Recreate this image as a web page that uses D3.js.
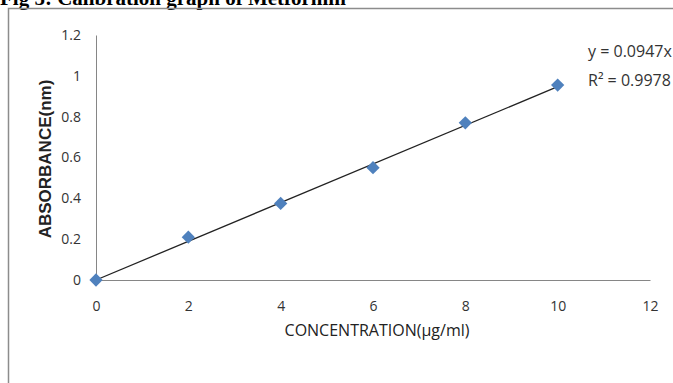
<!DOCTYPE html>
<html>
<head>
<meta charset="utf-8">
<script src="https://cdn.jsdelivr.net/npm/d3@7"></script>
<style>
  body { margin: 0; background: #fff; }
  svg { display: block; }
</style>
</head>
<body>
<div id="chart"></div>
<script>
// data
var concentration = [0, 2, 4, 6, 8, 10];
var absorbance = [0, 0.21, 0.375, 0.55, 0.77, 0.955];
var slope = 0.0947;
var xTicks = [0, 2, 4, 6, 8, 10, 12];
var yTicks = [0, 0.2, 0.4, 0.6, 0.8, 1, 1.2];
var eqLabels = ["y = 0.0947x", "R\u00b2 = 0.9978"];

var W = 673, H = 383;
var margin = {top: 35, right: 23, bottom: 103, left: 96},
    width = W - margin.left - margin.right,
    height = H - margin.top - margin.bottom;

var svg = d3.select("#chart").append("svg")
    .attr("width", W)
    .attr("height", H);

// title, mostly cut off at the top as in the source
svg.append("text")
    .attr("x", 0)
    .attr("y", 5)
    .style("font-family", "Liberation Serif, serif")
    .style("font-weight", "bold")
    .style("font-size", "21px")
    .text("Fig 5: Calibration graph of Metformin");

// chart frame
svg.append("rect")
    .attr("x", 8.5)
    .attr("y", 8.5)
    .attr("width", W)
    .attr("height", H)
    .attr("fill", "none")
    .attr("stroke", "#8c8c8c")
    .attr("stroke-width", 1.5);

var g = svg.append("g")
    .attr("transform", "translate(" + margin.left + "," + margin.top + ")");

var x = d3.scaleLinear().domain([0, 12]).range([0, width]);
var y = d3.scaleLinear().domain([0, 1.2]).range([height, 0]);

var tickFont = "Open Sans, sans-serif";

// x axis
var xAxis = g.append("g")
    .attr("transform", "translate(0," + height + ")")
    .call(d3.axisBottom(x).tickValues(xTicks).tickSize(0).tickPadding(21).tickFormat(d3.format("")));
xAxis.select(".domain").attr("stroke", "#868686");
xAxis.selectAll("text").style("font-family", tickFont).style("font-size", "14px").attr("fill", "#333");

// y axis
var yAxis = g.append("g")
    .call(d3.axisLeft(y).tickValues(yTicks).tickSize(0).tickPadding(15).tickFormat(d3.format("")));
yAxis.select(".domain").attr("stroke", "#868686");
yAxis.selectAll("text").style("font-family", tickFont).style("font-size", "14px").attr("fill", "#333");

// axis titles
svg.append("text")
    .attr("x", 377)
    .attr("y", 336)
    .attr("text-anchor", "middle")
    .style("font-family", tickFont)
    .style("font-size", "16px")
    .attr("fill", "#222")
    .text("CONCENTRATION(\u00b5g/ml)");

svg.append("text")
    .attr("transform", "translate(51,159) rotate(-90)")
    .attr("text-anchor", "middle")
    .style("font-family", "Liberation Sans, sans-serif")
    .style("font-weight", "bold")
    .style("font-size", "17px")
    .attr("fill", "#222")
    .text("ABSORBANCE(nm)");

// trend line
g.append("line")
    .attr("x1", x(0))
    .attr("y1", y(0))
    .attr("x2", x(10))
    .attr("y2", y(slope * 10))
    .attr("stroke", "#222")
    .attr("stroke-width", 1.3);

// markers
var pts = concentration.map(function(c, i) { return {c: c, a: absorbance[i]}; });
g.selectAll("path.pt")
    .data(pts)
    .join("path")
    .attr("class", "pt")
    .attr("d", d3.symbol().type(d3.symbolSquare).size(88))
    .attr("transform", function(d) { return "translate(" + x(d.c) + "," + y(d.a) + ") rotate(45)"; })
    .attr("fill", "#4f81bd");

// equation label
g.selectAll("text.eq")
    .data(eqLabels)
    .join("text")
    .attr("class", "eq")
    .attr("x", 492)
    .attr("y", function(d, i) { return 22 + i * 29; })
    .style("font-family", tickFont)
    .style("font-size", "16px")
    .attr("fill", "#333")
    .text(function(d) { return d; });
</script>
</body>
</html>
